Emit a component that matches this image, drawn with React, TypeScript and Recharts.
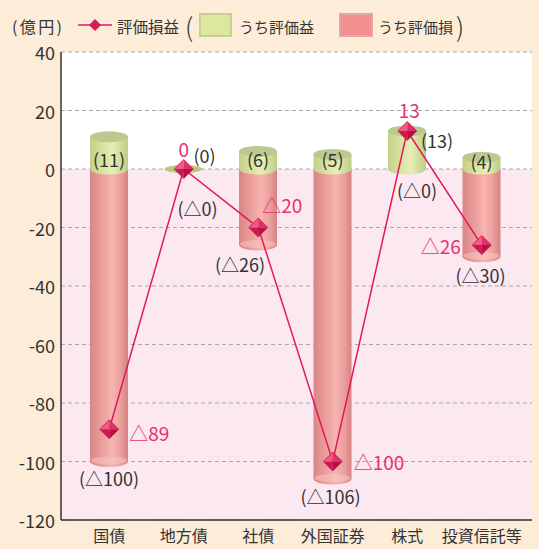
import React from 'react';
import { ComposedChart, Bar, Line, XAxis, YAxis, CartesianGrid, LabelList } from 'recharts';

const categories = ['国債', '地方債', '社債', '外国証券', '株式', '投資信託等'];
const gainValues = [11, 0, 6, 5, 13, 4];
const lossValues = [-100, 0, -26, -106, 0, -30];
const netValues = [-89, 0, -20, -100, 13, -26];
const yTicks = [40, 20, 0, -20, -40, -60, -80, -100, -120];

// label placement styles (dx, dy, anchor)
const netLabelStyle: [number, number, string][] = [
  [20, 3, 'start'], [0, -21, 'middle'], [4, -23, 'start'], [21, 0, 'start'], [2, -21, 'middle'], [-21, 0, 'end'],
];
const gainLabelStyle: [number, number, string][] = [
  [0, -10, 'middle'], [10, -14, 'start'], [0, -10, 'middle'], [0, -10, 'middle'], [14, -29, 'start'], [0, -8, 'middle'],
];
const lossLabelStyle: [number, number, string][] = [
  [0, 16, 'middle'], [14, 39, 'middle'], [-18, 19, 'middle'], [-2, 17, 'middle'], [10, 21, 'middle'], [-1, 18, 'middle'],
];

const data = categories.map((c, i) => ({ name: c, gain: gainValues[i], loss: lossValues[i], net: netValues[i] }));

const FONT = '"Noto Sans CJK JP", "Noto Sans", sans-serif';
const TEXT = '#333';
const PINK = '#e2185c';
const PINK_TXT = '#e5336c';
const RY = 5.5;

const fmtNet = (v: number) => (v < 0 ? `△${-v}` : `${v}`);

const LossShape = (props: any) => {
  const { x, y, width, height, index } = props;
  const top = Math.min(y, y + height);
  const bottom = Math.max(y, y + height);
  if (bottom - top < 0.5) return null;
  const rx = width / 2;
  const cx = x + rx;
  const id = `redBody${index}`;
  return (
    <g>
      <defs>
        <linearGradient id={id} x1="0" y1="0" x2="1" y2="0">
          <stop offset="0%" stopColor="#d88686" />
          <stop offset="30%" stopColor="#ea9c9a" />
          <stop offset="58%" stopColor="#f7b4b0" />
          <stop offset="80%" stopColor="#eca09d" />
          <stop offset="100%" stopColor="#d58282" />
        </linearGradient>
      </defs>
      <rect x={x} y={top} width={width} height={bottom - top} fill={`url(#${id})`} />
      <ellipse cx={cx} cy={bottom} rx={rx} ry={RY} fill={`url(#${id})`} />
      <ellipse cx={cx} cy={bottom - 1} rx={rx - 1} ry={RY - 1.5} fill="#f8c6c2" opacity={0.55} />
    </g>
  );
};

const GainShape = (props: any) => {
  const { x, y, width, height, index } = props;
  const top = Math.min(y, y + height);
  const bottom = Math.max(y, y + height);
  const rx = width / 2;
  const cx = x + rx;
  if (bottom - top < 0.5) {
    return <ellipse cx={cx} cy={top} rx={rx} ry={4} fill="#b9c783" />;
  }
  const id = `greenBody${index}`;
  return (
    <g>
      <defs>
        <linearGradient id={id} x1="0" y1="0" x2="1" y2="0">
          <stop offset="0%" stopColor="#c3cf8a" />
          <stop offset="35%" stopColor="#d9e4a2" />
          <stop offset="60%" stopColor="#e6eeb6" />
          <stop offset="100%" stopColor="#c0cc86" />
        </linearGradient>
      </defs>
      <ellipse cx={cx} cy={bottom} rx={rx} ry={RY} fill={`url(#${id})`} />
      <rect x={x} y={top} width={width} height={bottom - top} fill={`url(#${id})`} />
      <ellipse cx={cx} cy={top} rx={rx} ry={RY} fill="#bcc98e" />
    </g>
  );
};

const Diamond = (props: any) => {
  const { cx, cy } = props;
  if (cx == null || cy == null) return null;
  const s = 9.5;
  return (
    <g>
      <polygon points={`${cx},${cy - s} ${cx - s},${cy} ${cx},${cy}`} fill="#ef5b87" />
      <polygon points={`${cx},${cy - s} ${cx + s},${cy} ${cx},${cy}`} fill="#de3168" />
      <polygon points={`${cx - s},${cy} ${cx},${cy + s} ${cx},${cy}`} fill="#cc1a50" />
      <polygon points={`${cx + s},${cy} ${cx},${cy + s} ${cx},${cy}`} fill="#b80f44" />
      <polygon points={`${cx},${cy - s} ${cx + s},${cy} ${cx},${cy + s} ${cx - s},${cy}`} fill="none" stroke="#c8174e" strokeWidth={0.8} />
    </g>
  );
};

const NetLabel = (props: any) => {
  const { x, y, value, index } = props;
  const [dx, dy, anchor] = netLabelStyle[index];
  return (
    <text x={x + dx} y={y + dy} textAnchor={anchor as any} dominantBaseline="central" fontSize={19} fill={PINK_TXT} fontFamily={FONT}>
      {fmtNet(value)}
    </text>
  );
};

const GainLabel = (props: any) => {
  const { x, y, width, height, value, index } = props;
  const bottom = Math.max(y, y + height);
  const cx = x + width / 2;
  const [dx, dy, anchor] = gainLabelStyle[index];
  return (
    <text x={cx + dx} y={bottom + dy} textAnchor={anchor as any} dominantBaseline="central" fontSize={18} fill={TEXT} fontFamily={FONT}>
      {`(${value})`}
    </text>
  );
};

const LossLabel = (props: any) => {
  const { x, y, width, height, value, index } = props;
  const bottom = Math.max(y, y + height);
  const cx = x + width / 2;
  const [dx, dy, anchor] = lossLabelStyle[index];
  return (
    <text x={cx + dx} y={bottom + dy} textAnchor={anchor as any} dominantBaseline="central" fontSize={18} fill={TEXT} fontFamily={FONT}>
      {`(△${Math.abs(value)})`}
    </text>
  );
};

const XTick = (props: any) => {
  const { x, y, payload } = props;
  return (
    <text x={x} y={y + 7} textAnchor="middle" dominantBaseline="central" fontSize={16} fill={TEXT} fontFamily={FONT}>
      {payload.value}
    </text>
  );
};

const YTick = (props: any) => {
  const { x, y, payload } = props;
  return (
    <text x={x + 2} y={y} textAnchor="end" dominantBaseline="central" fontSize={18} fill={TEXT} fontFamily={FONT}>
      {payload.value}
    </text>
  );
};

const Legend = () => (
  <svg width={539} height={45} style={{ position: 'absolute', left: 0, top: 0 }}>
    <g fontFamily={FONT} fill={TEXT}>
      <text x={12} y={26} fontSize={16} dominantBaseline="central" textLength={50}>(億円)</text>
      <line x1={78} y1={25} x2={112} y2={25} stroke={PINK} strokeWidth={1.5} />
      <polygon points="95,19 101,25 95,31 89,25" fill="#d81b56" />
      <text x={117} y={26} fontSize={15.5} dominantBaseline="central">評価損益</text>
      <text x={185} y={25} fontSize={26} fontWeight={300} dominantBaseline="central">(</text>
      <rect x={200} y={14} width={31} height={22} fill="#dde79e" stroke="#c5d18c" strokeWidth={2} />
      <text x={239} y={26} fontSize={15} dominantBaseline="central">うち評価益</text>
      <rect x={340} y={14} width={32} height={22} fill="#f28f8f" stroke="#e3a6a2" strokeWidth={2} />
      <text x={378} y={26} fontSize={15} dominantBaseline="central">うち評価損</text>
      <text x={456} y={25} fontSize={26} fontWeight={300} dominantBaseline="central">)</text>
    </g>
  </svg>
);

export default function App() {
  return (
    <div style={{ position: 'absolute', left: 0, top: 0, width: 539, height: 549, background: '#fdecd8', fontFamily: FONT }}>
      <ComposedChart
        width={539}
        height={549}
        data={data}
        stackOffset="sign"
        barSize={38}
        margin={{ top: 52, right: 7, bottom: 0, left: 0 }}
      >
        <CartesianGrid
          vertical={false}
          strokeDasharray="4 3"
          stroke="#a8a8a8"
          horizontalFill={['#ffffff', '#ffffff', '#fce8f1', '#fce8f1', '#fce8f1', '#fce8f1', '#fce8f1', '#fce8f1']}
          fillOpacity={1}
        />
        <XAxis
          dataKey="name"
          height={29}
          interval={0}
          padding={{ left: 11, right: 13 }}
          axisLine={{ stroke: '#333', strokeWidth: 1.5 }}
          tickLine={false}
          tick={<XTick />}
        />
        <YAxis
          width={61}
          type="number"
          domain={[-120, 40]}
          ticks={yTicks}
          interval={0}
          allowDataOverflow
          axisLine={{ stroke: '#333', strokeWidth: 1.5 }}
          tickLine={false}
          tick={<YTick />}
        />
        <Bar dataKey="loss" stackId="s" shape={LossShape} isAnimationActive={false}>
          <LabelList dataKey="loss" content={LossLabel} />
        </Bar>
        <Bar dataKey="gain" stackId="s" shape={GainShape} isAnimationActive={false}>
          <LabelList dataKey="gain" content={GainLabel} />
        </Bar>
        <Line
          dataKey="net"
          stroke={PINK}
          strokeWidth={1.5}
          dot={<Diamond />}
          activeDot={false}
          isAnimationActive={false}
        >
          <LabelList dataKey="net" content={NetLabel} />
        </Line>
      </ComposedChart>
      <Legend />
    </div>
  );
}
